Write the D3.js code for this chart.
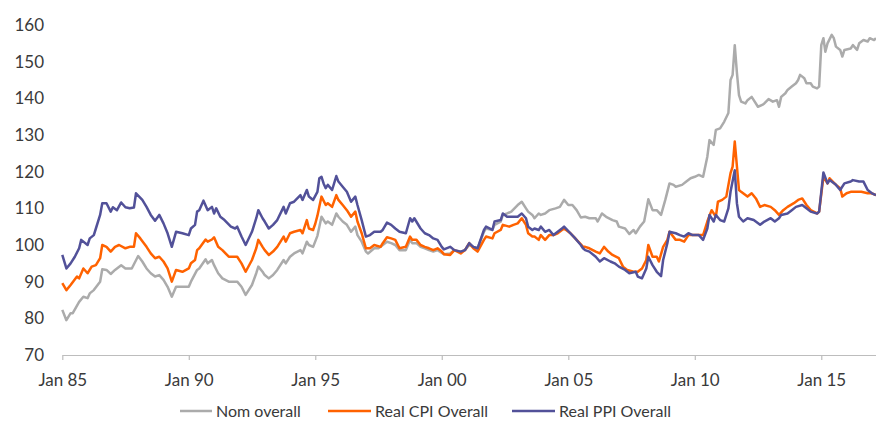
<!DOCTYPE html>
<html><head><meta charset="utf-8">
<script src="https://cdn.jsdelivr.net/npm/d3@7"></script>
<style>
html,body{margin:0;padding:0;background:#fff;}
svg{display:block;}
text{font-family:Lato,"Open Sans",sans-serif;fill:#3a3a3a;}
</style></head>
<body><svg id="chart" width="876" height="423"></svg>
<script>
const seriesNames = ["Nom overall", "Real CPI Overall", "Real PPI Overall"];
const seriesColors = ["#ababab", "#ff6200", "#525199"];
const yTicks = [70, 80, 90, 100, 110, 120, 130, 140, 150, 160];
const xTickLabels = ["Jan 85", "Jan 90", "Jan 95", "Jan 00", "Jan 05", "Jan 10", "Jan 15"];

const nomOverall = [
["1985-01",82.3],["1985-03",79.5],["1985-05",81.4],["1985-06",81.4],["1985-09",84.5],["1985-11",85.9],
["1986-01",85.5],["1986-02",86.8],["1986-04",87.7],["1986-07",90],["1986-08",93.4],["1986-10",93.2],["1986-12",92.1],
["1987-02",93.2],["1987-05",94.5],["1987-07",93.6],["1987-10",93.6],["1988-01",97],["1988-03",95.5],["1988-05",93.6],
["1988-07",92.3],["1988-09",91.4],["1988-11",91.8],["1989-01",90.5],["1989-03",88.6],["1989-05",85.9],["1989-07",88.6],
["1989-10",88.6],["1990-01",88.6],["1990-02",90],["1990-05",93.2],["1990-06",93.6],["1990-09",96.1],["1990-10",95],
["1990-12",95.9],["1991-01",94.5],["1991-03",92.3],["1991-05",90.9],["1991-08",90],["1991-10",90],["1991-12",90],
["1992-02",88.6],["1992-04",86.4],["1992-07",89.1],["1992-09",92.3],["1992-10",94.1],["1992-12",92.7],["1993-01",91.8],
["1993-03",90.9],["1993-05",91.8],["1993-07",93.2],["1993-10",95.9],["1993-11",95],["1994-01",96.8],["1994-03",97.7],
["1994-06",98.6],["1994-07",97.7],["1994-09",100.9],["1994-10",100],["1994-12",99.5],["1995-01",101],["1995-02",102.5],
["1995-03",105],["1995-04",107.7],["1995-06",105.9],["1995-07",106.4],["1995-09",105.5],["1995-11",108.6],["1995-12",107.7],
["1996-02",106.4],["1996-04",105.5],["1996-06",103.6],["1996-08",105],["1996-09",102.7],["1996-11",100.9],["1997-01",98.2],
["1997-02",97.7],["1997-05",99.1],["1997-07",99.1],["1997-09",100],["1997-11",100.9],["1998-01",100.5],["1998-03",100],
["1998-05",98.6],["1998-08",98.6],["1998-10",101.4],["1998-11",100.5],["1999-01",100.5],["1999-03",99.5],["1999-05",99.1],
["1999-07",98.6],["1999-09",98.2],["1999-11",98.6],["2000-02",97.5],["2000-05",97.7],["2000-07",98.6],["2000-10",98.2],
["2000-12",98.6],["2001-02",100],["2001-04",99.5],["2001-06",99.1],["2001-09",103.6],["2001-10",104.5],["2002-01",104.1],
["2002-02",105.5],["2002-05",106.4],["2002-06",108.2],["2002-08",108.6],["2002-10",109.1],["2003-01",110.9],["2003-03",111.8],
["2003-05",110],["2003-06",109.1],["2003-08",108.2],["2003-09",107.3],["2003-11",108.6],["2003-12",108.2],["2004-02",108.6],
["2004-04",109.5],["2004-07",110],["2004-09",110.4],["2004-11",112.3],["2005-01",110.9],["2005-03",110.9],["2005-05",109.5],
["2005-07",107.5],["2005-09",107.7],["2005-11",107.3],["2006-02",107.3],["2006-03",106.4],["2006-05",108.6],["2006-07",107.7],
["2006-10",106.8],["2006-12",106.4],["2007-01",105],["2007-04",104.5],["2007-06",103],["2007-08",104.1],["2007-09",103.2],
["2007-11",105],["2008-01",106.4],["2008-02",109.5],["2008-03",112.5],["2008-05",109.5],["2008-07",109.5],["2008-09",108.2],
["2008-11",112.3],["2009-01",116.8],["2009-03",116.4],["2009-04",115.9],["2009-07",116.4],["2009-09",117.3],["2009-11",118.2],
["2010-01",118.6],["2010-03",119.1],["2010-05",118.6],["2010-07",124.1],["2010-08",128.6],["2010-10",127.3],["2010-11",131.4],
["2011-01",131.8],["2011-03",133.6],["2011-05",136],["2011-06",145],["2011-07",146.4],["2011-08",154.5],["2011-09",147],
["2011-10",140.9],["2011-11",139.1],["2012-01",138.6],["2012-02",139.5],["2012-04",140.4],["2012-05",139.5],["2012-07",137.7],
["2012-09",138.2],["2012-10",138.6],["2012-12",139.8],["2013-02",139.1],["2013-04",139.5],["2013-05",137.7],["2013-06",140.4],
["2013-08",141.4],["2013-09",142.3],["2013-11",143.2],["2014-01",144.1],["2014-02",145],["2014-03",146.4],["2014-05",145.5],
["2014-06",144.1],["2014-08",144.1],["2014-09",143.2],["2014-11",142.7],["2014-12",143.2],["2015-01",154.5],["2015-02",156.4],
["2015-03",152.7],["2015-04",155],["2015-06",157.3],["2015-07",156.4],["2015-08",154.1],["2015-10",153.2],["2015-11",151.4],
["2015-12",153.2],["2016-03",153.6],["2016-04",154.5],["2016-06",153.2],["2016-07",155],["2016-09",155.9],["2016-11",155.5],
["2016-12",156.4],["2017-02",155.9],["2017-03",156.4]
];

const realCpiOverall = [
["1985-01",89.6],["1985-03",87.7],["1985-05",89.1],["1985-08",91.4],["1985-09",90.9],["1985-11",93.6],["1986-01",92.3],
["1986-03",94.1],["1986-05",94.5],["1986-07",96.4],["1986-08",100],["1986-10",99.5],["1986-12",98.2],["1987-02",99.5],
["1987-04",100],["1987-07",99.1],["1987-09",99.5],["1987-11",99.5],["1987-12",103.2],["1988-02",101.8],["1988-05",99.5],
["1988-07",97.7],["1988-09",96.4],["1988-11",96.8],["1989-01",95.5],["1989-03",93.6],["1989-05",90],["1989-07",93.2],
["1989-10",92.7],["1990-01",93.6],["1990-02",95],["1990-04",95.9],["1990-05",98.6],["1990-06",99.1],["1990-09",101.5],
["1990-10",100.9],["1990-12",101.5],["1991-01",102.1],["1991-03",99.5],["1991-05",98.6],["1991-08",96.8],["1991-10",96.8],
["1991-12",96.8],["1992-02",95],["1992-04",92.7],["1992-07",95.9],["1992-09",99.1],["1992-10",101.4],["1992-12",99.5],
["1993-01",98.6],["1993-03",97.3],["1993-05",98.2],["1993-07",99.5],["1993-10",102.3],["1993-11",100.9],["1994-01",103.2],
["1994-03",103.6],["1994-06",104.1],["1994-07",103.2],["1994-09",106.8],["1994-10",104.5],["1994-12",104.1],["1995-01",105.8],
["1995-02",108],["1995-03",110.5],["1995-04",113.2],["1995-06",110.9],["1995-07",111.4],["1995-09",110.4],["1995-11",113.6],
["1995-12",112.3],["1996-02",110.9],["1996-04",109.5],["1996-06",107.7],["1996-08",109.1],["1996-09",106.4],["1996-11",103.2],
["1997-01",99.1],["1997-03",99.1],["1997-05",100],["1997-08",99.5],["1997-09",100.5],["1997-11",102.1],["1998-01",101.8],
["1998-03",101.4],["1998-05",99.1],["1998-08",99.5],["1998-10",102.3],["1998-11",101.4],["1999-01",101.4],["1999-03",100],
["1999-05",99.5],["1999-07",99.1],["1999-09",98.6],["1999-11",99.1],["2000-01",98.2],["2000-02",97.5],["2000-05",97.3],
["2000-07",98.6],["2000-10",97.7],["2000-12",98.6],["2001-02",100.5],["2001-04",99.1],["2001-06",98.2],["2001-09",101.4],
["2001-10",102.3],["2002-01",101.8],["2002-02",103.2],["2002-05",104.1],["2002-06",105.5],["2002-09",105],["2002-11",105.5],
["2003-01",105.9],["2003-03",107.3],["2003-05",105.5],["2003-06",103.2],["2003-08",102.3],["2003-09",102.3],["2003-11",101.4],
["2003-12",102.7],["2004-02",101.4],["2004-04",102.7],["2004-06",102.7],["2004-08",103.2],["2004-10",104.1],["2004-11",104.5],
["2005-02",103.2],["2005-04",102],["2005-07",100.2],["2005-08",99.5],["2005-09",99.5],["2005-11",99.1],["2006-02",98.2],
["2006-04",97.7],["2006-06",99.5],["2006-08",98.2],["2006-10",97.3],["2007-01",96.4],["2007-03",94.1],["2007-05",93.2],
["2007-08",92.7],["2007-10",92.7],["2007-12",93.6],["2008-02",95.9],["2008-03",100],["2008-05",96.8],["2008-07",96.8],
["2008-08",95.5],["2008-10",99.5],["2008-12",101.4],["2009-01",103.6],["2009-04",101.4],["2009-06",101.4],["2009-08",100.9],
["2009-10",102.7],["2009-12",102.7],["2010-03",102.7],["2010-05",102.7],["2010-07",106.4],["2010-09",109.5],["2010-11",107.7],
["2010-12",111.8],["2011-02",112.3],["2011-04",113.2],["2011-06",119.6],["2011-07",121.4],["2011-08",128.2],["2011-10",115],
["2011-11",114.5],["2012-02",113.2],["2012-04",114.1],["2012-06",112.7],["2012-08",110.4],["2012-10",110.9],["2013-01",110.4],
["2013-03",109.5],["2013-05",108.2],["2013-07",109.5],["2013-09",110.4],["2013-12",111.4],["2014-02",112.3],["2014-04",112.7],
["2014-06",110.9],["2014-08",109.5],["2014-11",108.6],["2014-12",109.1],["2015-02",118.6],["2015-04",116.8],["2015-05",118.2],
["2015-08",116.4],["2015-10",115.5],["2015-11",113.2],["2016-01",114.1],["2016-03",114.5],["2016-06",114.5],["2016-08",114.5],
["2016-11",114.1],["2017-01",114.1],["2017-03",113.6]
];

const realPpiOverall = [
["1985-01",97.3],["1985-03",93.6],["1985-05",95],["1985-07",96.8],["1985-09",99.1],["1985-10",101.4],["1986-01",100],
["1986-02",101.8],["1986-04",102.7],["1986-05",104.5],["1986-07",108.2],["1986-08",111.4],["1986-10",111.4],["1986-12",109.1],
["1987-01",110.3],["1987-03",109.5],["1987-05",111.6],["1987-07",110.3],["1987-09",110],["1987-11",110.2],["1987-12",114.1],
["1988-03",112.3],["1988-05",110.4],["1988-07",108.2],["1988-09",106.6],["1988-11",108.2],["1989-01",105.9],["1989-03",103.2],
["1989-05",99.5],["1989-07",103.6],["1989-10",103.2],["1990-01",102.7],["1990-02",104.5],["1990-04",105.5],["1990-05",109.1],
["1990-06",109.5],["1990-08",112.1],["1990-10",109.5],["1990-12",110.4],["1991-01",108.6],["1991-02",110],["1991-04",107.7],
["1991-06",106.8],["1991-09",105],["1991-11",104.5],["1991-12",105],["1992-02",102.3],["1992-04",100],["1992-07",103.6],
["1992-09",107.3],["1992-10",109.5],["1992-12",107.3],["1993-01",106.4],["1993-03",104.5],["1993-05",105.5],["1993-07",106.8],
["1993-10",110.4],["1993-11",108.6],["1994-01",111.4],["1994-03",111.8],["1994-06",113.6],["1994-07",112.3],["1994-09",115],
["1994-10",113.2],["1994-12",112.3],["1995-02",114.5],["1995-03",118.2],["1995-04",118.6],["1995-05",116.8],["1995-06",115.5],
["1995-07",116.4],["1995-09",115],["1995-11",118.8],["1995-12",117.3],["1996-02",115.9],["1996-04",114.5],["1996-06",111.8],
["1996-08",113.2],["1996-09",110.9],["1996-11",106.8],["1997-01",102.3],["1997-03",102.7],["1997-05",103.6],["1997-08",103.6],
["1997-09",104.1],["1997-11",106.1],["1998-01",105.5],["1998-03",104.5],["1998-05",103.6],["1998-08",103.2],["1998-10",107.3],
["1998-11",106.4],["1998-12",107.3],["1999-03",104.5],["1999-05",103.2],["1999-07",102.7],["1999-09",101.8],["1999-11",101.4],
["2000-01",99.5],["2000-02",98.8],["2000-05",99.5],["2000-07",98.6],["2000-10",98.2],["2000-12",98.6],["2001-02",100.5],
["2001-04",99.5],["2001-06",99.1],["2001-09",104.1],["2001-10",105],["2002-01",104.1],["2002-02",106.4],["2002-05",106.8],
["2002-06",108.6],["2002-08",107.7],["2002-10",107.7],["2003-01",107.7],["2003-03",108.6],["2003-05",107.3],["2003-06",105],
["2003-08",104.1],["2003-09",104.5],["2003-11",104.1],["2003-12",105],["2004-02",103.6],["2004-04",104.1],["2004-06",102.7],
["2004-08",103.6],["2004-10",104.5],["2004-11",105],["2005-02",103.2],["2005-04",102],["2005-07",100],["2005-08",99.1],
["2005-09",98.6],["2005-11",98.2],["2006-02",96.8],["2006-04",95.5],["2006-06",96.4],["2006-09",95.5],["2006-11",95],
["2007-01",94.1],["2007-04",93.2],["2007-06",92.3],["2007-09",92.7],["2007-10",91.4],["2007-12",90.9],["2008-02",93.6],
["2008-03",96.8],["2008-05",94.5],["2008-07",92.7],["2008-09",91.5],["2008-10",95.9],["2008-12",100.5],["2009-01",103.6],
["2009-04",103.2],["2009-06",102.7],["2009-08",102.3],["2009-10",103.2],["2009-12",102.7],["2010-03",102.7],["2010-05",101.4],
["2010-07",104.5],["2010-08",108.2],["2010-10",106.4],["2010-11",108.2],["2011-01",106.8],["2011-03",106.4],["2011-05",110],
["2011-06",114.5],["2011-08",120.4],["2011-09",111.4],["2011-10",107.7],["2011-12",106.4],["2012-02",107.3],["2012-05",106.8],
["2012-08",105.5],["2012-10",106.4],["2013-01",107.3],["2013-03",106.4],["2013-05",107.3],["2013-06",108.2],["2013-09",108.6],
["2013-11",109.5],["2014-01",110.4],["2014-04",110.9],["2014-06",110],["2014-08",109.1],["2014-11",108.6],["2014-12",109.1],
["2015-02",119.8],["2015-04",116.8],["2015-05",117.7],["2015-08",116.4],["2015-10",115],["2015-12",116.8],["2016-03",117.3],
["2016-04",117.7],["2016-07",117.3],["2016-09",117.3],["2016-11",115],["2017-01",114.1],["2017-03",113.6]
];

const parse = d3.timeParse("%Y-%m");
const allSeries = [nomOverall, realCpiOverall, realPpiOverall].map((s, i) => ({
  name: seriesNames[i], color: seriesColors[i],
  values: s.map(d => ({date: parse(d[0]), value: d[1]}))
}));

const svg = d3.select("#chart");
const x = d3.scaleTime().domain([parse("1985-01"), parse("2017-03")]).range([62.3, 876]);
const y = d3.scaleLinear().domain([70, 160]).range([355, 25]);

// y labels
svg.append("g").selectAll("text").data(yTicks).join("text")
  .attr("x", 44).attr("y", d => y(d)).attr("dy", "0.35em")
  .attr("text-anchor", "end").style("font-size", "17px").text(d => d);

// x axis
const tickDates = xTickLabels.map((l, i) => parse((1985 + 5 * i) + "-01"));
const xAxis = d3.axisBottom(x).tickValues(tickDates).tickSize(5).tickSizeOuter(0)
  .tickFormat((d, i) => xTickLabels[i]);
const gx = svg.append("g").attr("transform", "translate(0,355)").call(xAxis);
gx.select(".domain").attr("stroke", "#bdbdbd").attr("stroke-width", 1.2);
gx.selectAll(".tick line").attr("stroke", "#bdbdbd").attr("stroke-width", 1.2);
gx.selectAll(".tick text").attr("y", 19).style("font-size", "17px")
  .style("font-family", "Lato, 'Open Sans', sans-serif").attr("fill", "#3a3a3a");

// lines
const line = d3.line().x(d => x(d.date)).y(d => y(d.value));
svg.append("g").selectAll("path").data(allSeries).join("path")
  .attr("d", d => line(d.values)).attr("fill", "none")
  .attr("stroke", d => d.color).attr("stroke-width", 2.5)
  .attr("stroke-linejoin", "round");

// legend
const legendX = [180, 328, 512];
const lg = svg.append("g").attr("transform", "translate(0,411)");
const items = lg.selectAll("g").data(allSeries).join("g")
  .attr("transform", (d, i) => `translate(${legendX[i]},0)`);
items.append("line").attr("x1", 0).attr("x2", (d, i) => i === 0 ? 32 : 43)
  .attr("stroke", d => d.color).attr("stroke-width", 2.5);
items.append("text").attr("x", (d, i) => i === 0 ? 36 : 47).attr("dy", "0.35em")
  .style("font-size", "16px").text(d => d.name);
</script></body></html>
